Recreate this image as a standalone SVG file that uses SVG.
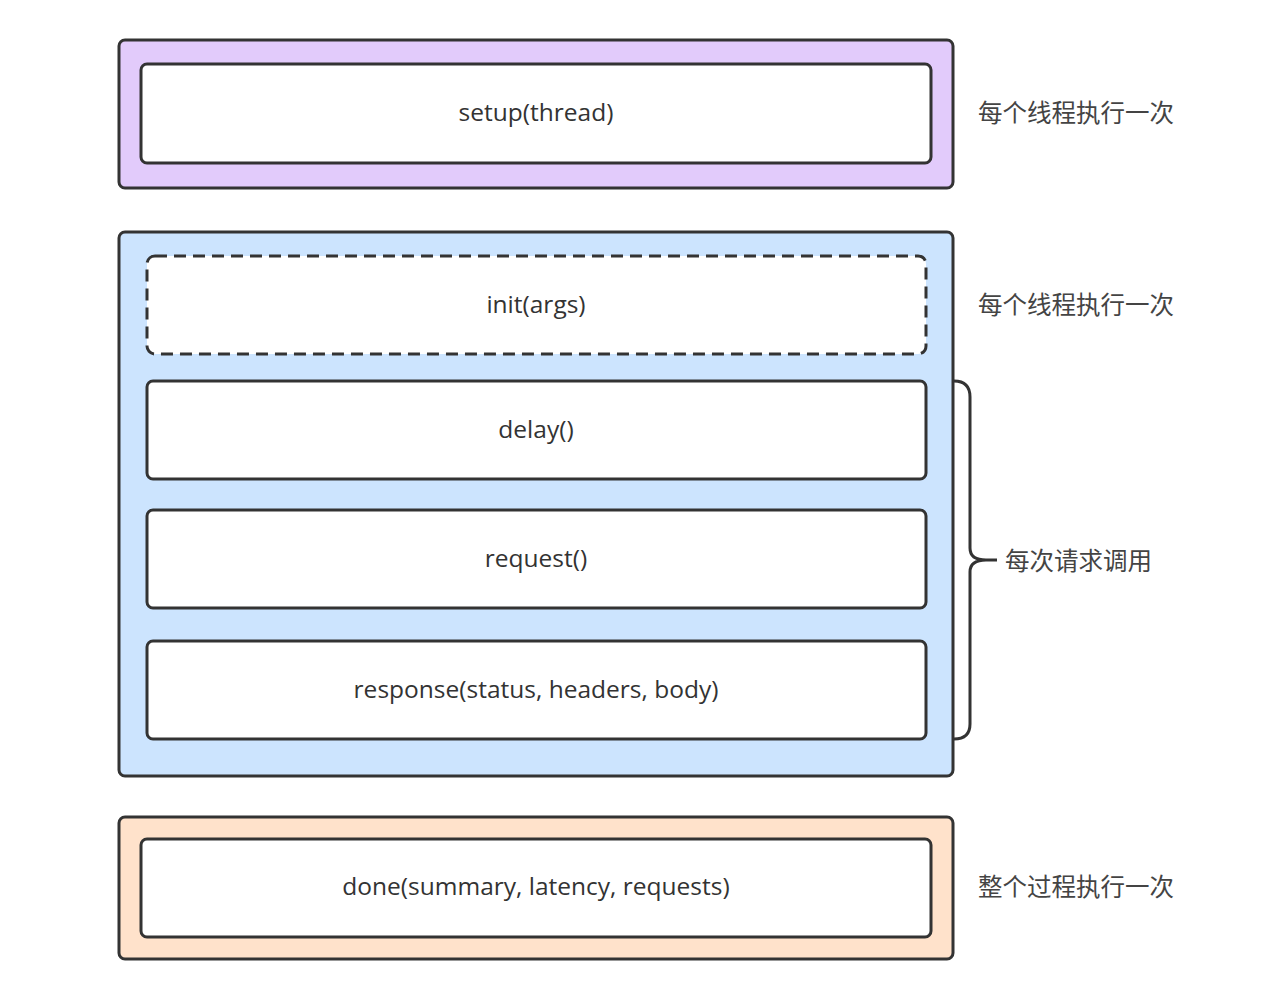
<svg xmlns="http://www.w3.org/2000/svg" width="1276" height="998" viewBox="0 0 1276 998">
<style>
.box{stroke:#333;stroke-width:3;}
.in{fill:#fff;stroke:#333;stroke-width:3;}
.lbl{font-family:"Open Sans","Noto Sans",sans-serif;font-size:24.5px;fill:#333;text-anchor:middle;dominant-baseline:central;}
.cn{font-family:"Noto Sans CJK SC",sans-serif;font-size:24.5px;fill:#444;dominant-baseline:central;}
</style>
<rect width="1276" height="998" fill="#fff"/>
<g id="setup-group">
<rect class="box" x="119" y="40" width="834" height="148" rx="6" fill="#e2cbfb"/>
</g>
<g id="setup">
<rect class="in" x="141" y="64" width="790" height="99" rx="6"/>
<text class="lbl" x="536" y="111">setup(thread)</text>
</g>
<g id="thread-group">
<rect class="box" x="119" y="232" width="834" height="544" rx="6" fill="#cce4fe"/>
</g>
<g id="init">
<rect class="in" x="147" y="256" width="779" height="98" rx="8" stroke-dasharray="12 7"/>
<text class="lbl" x="536" y="303">init(args)</text>
</g>
<g id="delay">
<rect class="in" x="147" y="381" width="779" height="98" rx="6"/>
<text class="lbl" x="536" y="428">delay()</text>
</g>
<g id="request">
<rect class="in" x="147" y="510" width="779" height="98" rx="6"/>
<text class="lbl" x="536" y="557">request()</text>
</g>
<g id="response">
<rect class="in" x="147" y="641" width="779" height="98" rx="6"/>
<text class="lbl" x="536" y="688">response(status, headers, body)</text>
</g>
<g id="done-group">
<rect class="box" x="119" y="817" width="834" height="142" rx="6" fill="#ffe2cb"/>
</g>
<g id="done">
<rect class="in" x="141" y="839" width="790" height="98" rx="6"/>
<text class="lbl" x="536" y="885">done(summary, latency, requests)</text>
</g>
<g id="connectors">
<path d="M954 381 Q970 381 970 397 L970 548 Q970 560 986 560 L997 560 M986 560 Q970 560 970 572 L970 724 Q970 739 954 739" fill="none" stroke="#333" stroke-width="3"/>
</g>
<g id="labels">
<text class="cn" x="978" y="111">每个线程执行一次</text>
<text class="cn" x="978" y="303">每个线程执行一次</text>
<text class="cn" x="1005" y="559">每次请求调用</text>
<text class="cn" x="978" y="885">整个过程执行一次</text>
</g>
</svg>
